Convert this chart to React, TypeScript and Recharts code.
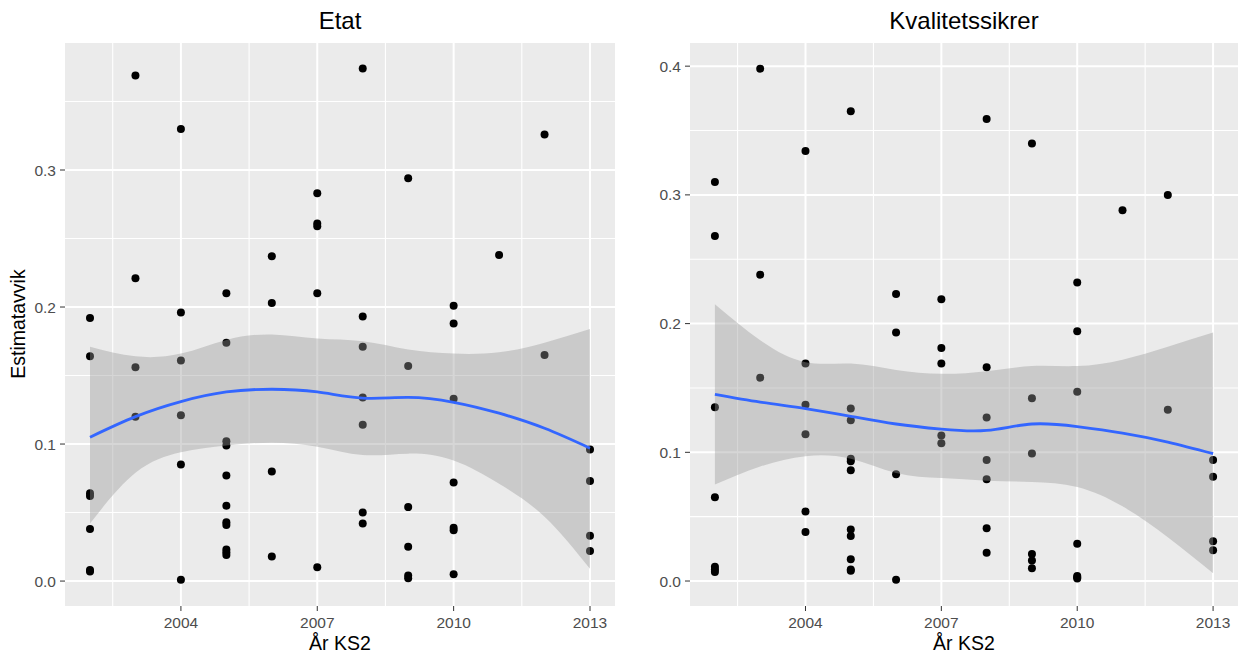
import React from "react";
import {
  ComposedChart,
  Scatter,
  Area,
  Line,
  XAxis,
  YAxis,
  CartesianGrid,
  ReferenceLine,
} from "recharts";

const YEARS = [2002, 2003, 2004, 2005, 2006, 2007, 2008, 2009, 2010, 2011, 2012, 2013];

// estimate deviations per year, one inner list per entry in YEARS
const ETAT_VALUES: number[][] = [
  [0.192, 0.164, 0.064, 0.062, 0.038, 0.008, 0.007],
  [0.369, 0.221, 0.156, 0.12],
  [0.33, 0.196, 0.161, 0.121, 0.085, 0.001],
  [0.21, 0.174, 0.102, 0.099, 0.077, 0.055, 0.043, 0.041, 0.023, 0.021, 0.019],
  [0.237, 0.203, 0.08, 0.018],
  [0.283, 0.261, 0.259, 0.21, 0.01],
  [0.374, 0.193, 0.171, 0.134, 0.114, 0.05, 0.042],
  [0.294, 0.157, 0.054, 0.025, 0.004, 0.002],
  [0.201, 0.188, 0.133, 0.072, 0.039, 0.037, 0.005],
  [0.238],
  [0.326, 0.165],
  [0.096, 0.073, 0.033, 0.022],
];

const KS_VALUES: number[][] = [
  [0.31, 0.268, 0.135, 0.065, 0.011, 0.009, 0.007],
  [0.398, 0.238, 0.158],
  [0.334, 0.169, 0.137, 0.114, 0.054, 0.038],
  [0.365, 0.134, 0.125, 0.095, 0.093, 0.086, 0.04, 0.035, 0.017, 0.009, 0.008],
  [0.223, 0.193, 0.083, 0.001],
  [0.219, 0.181, 0.169, 0.113, 0.107],
  [0.359, 0.166, 0.127, 0.094, 0.079, 0.041, 0.022],
  [0.34, 0.142, 0.099, 0.021, 0.016, 0.01],
  [0.232, 0.194, 0.147, 0.029, 0.004, 0.003, 0.002],
  [0.288],
  [0.3, 0.133],
  [0.094, 0.081, 0.031, 0.024],
];

// loess fit and confidence band, per year
const ETAT_FIT = [0.105, 0.12, 0.131, 0.138, 0.14, 0.138, 0.1335, 0.134, 0.1305, 0.1225, 0.1115, 0.097];
const ETAT_LOW = [0.042, 0.079, 0.094, 0.099, 0.101, 0.098, 0.092, 0.093, 0.088, 0.071, 0.047, 0.009];
const ETAT_HIGH = [0.171, 0.164, 0.166, 0.176, 0.18, 0.177, 0.175, 0.169, 0.166, 0.167, 0.174, 0.184];

const KS_FIT = [0.145, 0.139, 0.134, 0.128, 0.122, 0.118, 0.117, 0.122, 0.12, 0.115, 0.108, 0.099];
const KS_LOW = [0.075, 0.089, 0.097, 0.095, 0.084, 0.08, 0.078, 0.077, 0.073, 0.058, 0.034, 0.006];
const KS_HIGH = [0.215, 0.187, 0.17, 0.169, 0.164, 0.161, 0.163, 0.167, 0.167, 0.172, 0.182, 0.193];

const X_TICKS = [2004, 2007, 2010, 2013];
const X_MINOR = [2002.5, 2005.5, 2008.5, 2011.5];
const X_DOMAIN: [number, number] = [2001.45, 2013.55];

const FONT = "'Liberation Sans', Arial, sans-serif";
const HEIGHT = 655;
const Y_AXIS_W = 35;
const X_AXIS_H = 20;

const toPoints = (values: number[][]) =>
  YEARS.flatMap((x, i) => values[i].map((y) => ({ x, y })));

const toSmooth = (fit: number[], low: number[], high: number[]) =>
  YEARS.map((x, i) => ({ x, fit: fit[i], band: [low[i], high[i]] }));

const Dot = (p: any) => <circle cx={p.cx} cy={p.cy} r={4} fill="#000" />;

type FacetProps = {
  title: string;
  values: number[][];
  fit: number[];
  low: number[];
  high: number[];
  yDomain: [number, number];
  yTicks: number[];
  yMinor: number[];
  left: number;
  width: number;
  marginLeft: number;
  marginRight: number;
};

function Facet(props: FacetProps) {
  const { title, values, fit, low, high, yDomain, yTicks, yMinor, left, width, marginLeft, marginRight } = props;
  const points = toPoints(values);
  const smooth = toSmooth(fit, low, high);
  const plotLeft = marginLeft + Y_AXIS_W;
  const plotCenter = plotLeft + (width - plotLeft - marginRight) / 2;
  const tickStyle = { fill: "#4D4D4D", fontSize: 15.5, fontFamily: FONT };

  return (
    <div style={{ position: "absolute", left, top: 0, width, height: HEIGHT }}>
      <div
        style={{
          position: "absolute",
          left: plotCenter - 200,
          width: 400,
          top: 9,
          lineHeight: "24px",
          textAlign: "center",
          fontSize: 24,
          color: "#000",
        }}
      >
        {title}
      </div>
      <div
        style={{
          position: "absolute",
          left: plotCenter - 150,
          width: 300,
          top: 633,
          lineHeight: "20px",
          textAlign: "center",
          fontSize: 19.5,
          color: "#000",
        }}
      >
        År KS2
      </div>

      {/* panel, grid, axes and points */}
      <div style={{ position: "absolute", left: 0, top: 0 }}>
        <ComposedChart
          width={width}
          height={HEIGHT}
          margin={{ top: 43, right: marginRight, bottom: 29, left: marginLeft }}
        >
          <CartesianGrid fill="#EBEBEB" fillOpacity={1} horizontal={false} vertical={false} />
          <XAxis
            type="number"
            dataKey="x"
            domain={X_DOMAIN}
            ticks={X_TICKS}
            allowDataOverflow
            axisLine={false}
            tickSize={5}
            tickMargin={6}
            height={X_AXIS_H}
            tickLine={{ stroke: "#333333" }}
            tick={tickStyle}
          />
          <YAxis
            type="number"
            dataKey="y"
            domain={yDomain}
            ticks={yTicks}
            allowDataOverflow
            axisLine={false}
            width={Y_AXIS_W}
            tickSize={5}
            tickMargin={4}
            tickLine={{ stroke: "#333333" }}
            tickFormatter={(v: number) => v.toFixed(1)}
            tick={tickStyle}
          />
          {yMinor.map((v) => (
            <ReferenceLine key={`hm${v}`} y={v} stroke="#FFFFFF" strokeWidth={1.1} />
          ))}
          {X_MINOR.map((v) => (
            <ReferenceLine key={`vm${v}`} x={v} stroke="#FFFFFF" strokeWidth={1.1} />
          ))}
          {yTicks.map((v) => (
            <ReferenceLine key={`h${v}`} y={v} stroke="#FFFFFF" strokeWidth={2} />
          ))}
          {X_TICKS.map((v) => (
            <ReferenceLine key={`v${v}`} x={v} stroke="#FFFFFF" strokeWidth={2} />
          ))}
          <Scatter data={points} dataKey="y" shape={Dot} isAnimationActive={false} />
        </ComposedChart>
      </div>

      {/* smoother band and line, drawn above the points */}
      <div style={{ position: "absolute", left: 0, top: 0, pointerEvents: "none" }}>
        <ComposedChart
          width={width}
          height={HEIGHT}
          margin={{
            top: 43,
            right: marginRight,
            bottom: 29 + X_AXIS_H,
            left: marginLeft + Y_AXIS_W,
          }}
        >
          <XAxis type="number" dataKey="x" domain={X_DOMAIN} allowDataOverflow hide />
          <YAxis type="number" domain={yDomain} allowDataOverflow hide />
          <Area
            data={smooth}
            dataKey="band"
            type="natural"
            fill="#999999"
            fillOpacity={0.4}
            stroke="none"
            isAnimationActive={false}
          />
          <Line
            data={smooth}
            dataKey="fit"
            type="natural"
            stroke="#3366FF"
            strokeWidth={2.8}
            dot={false}
            isAnimationActive={false}
          />
        </ComposedChart>
      </div>
    </div>
  );
}

export default function App() {
  return (
    <div
      style={{
        position: "absolute",
        left: 0,
        top: 0,
        width: 1245,
        height: HEIGHT,
        background: "#fff",
        fontFamily: FONT,
      }}
    >
      <div
        style={{
          position: "absolute",
          left: 18 - 100,
          top: 324 - 10,
          width: 200,
          height: 20,
          lineHeight: "20px",
          textAlign: "center",
          transform: "rotate(-90deg)",
          fontSize: 19.5,
          color: "#000",
        }}
      >
        Estimatavvik
      </div>
      <Facet
        title="Etat"
        values={ETAT_VALUES}
        fit={ETAT_FIT}
        low={ETAT_LOW}
        high={ETAT_HIGH}
        yDomain={[-0.0182, 0.3927]}
        yTicks={[0, 0.1, 0.2, 0.3]}
        yMinor={[0.05, 0.15, 0.25, 0.35]}
        left={0}
        width={620}
        marginLeft={30}
        marginRight={5}
      />
      <Facet
        title="Kvalitetssikrer"
        values={KS_VALUES}
        fit={KS_FIT}
        low={KS_LOW}
        high={KS_HIGH}
        yDomain={[-0.0194, 0.418]}
        yTicks={[0, 0.1, 0.2, 0.3, 0.4]}
        yMinor={[0.05, 0.15, 0.25, 0.35]}
        left={620}
        width={625}
        marginLeft={35}
        marginRight={7}
      />
    </div>
  );
}
